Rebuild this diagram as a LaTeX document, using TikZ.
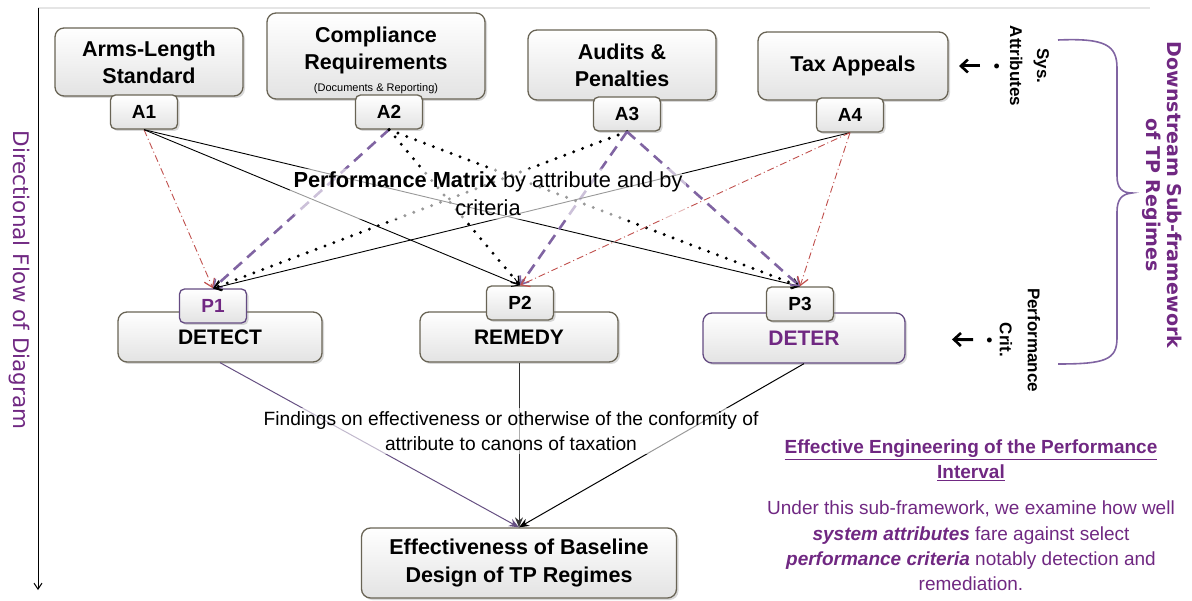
\documentclass[tikz,border=0pt]{standalone}
\usepackage{fontspec}
\setmainfont{Liberation Sans}
\newfontfamily\handfont{DejaVu Sans}
\usetikzlibrary{arrows.meta, shadows}
\definecolor{boxline}{RGB}{105,100,85}
\definecolor{deterline}{RGB}{100,75,130}
\definecolor{plum}{RGB}{112,40,130}
\definecolor{lilac}{RGB}{128,100,162}
\definecolor{brick}{RGB}{192,80,77}
\tikzstyle{attribute} = [rectangle, rounded corners=9pt, minimum width=188pt,
  minimum height=68pt, align=center, draw=boxline, line width=1.3pt,
  top color=white, bottom color=gray!22,
  drop shadow={opacity=0.3, shadow xshift=2pt, shadow yshift=-2pt},
  font=\fontsize{21.5}{27}\selectfont\bfseries]
\tikzstyle{tag} = [rectangle, rounded corners=5pt, minimum width=67pt,
  minimum height=34pt, draw=boxline, line width=1.3pt,
  top color=white, bottom color=gray!22,
  drop shadow={opacity=0.3, shadow xshift=2pt, shadow yshift=-2pt},
  font=\fontsize{19}{23}\selectfont\bfseries]
\tikzstyle{criterion} = [rectangle, rounded corners=9pt, minimum width=204pt,
  minimum height=50pt, draw=boxline, line width=1.3pt,
  top color=white, bottom color=gray!22,
  drop shadow={opacity=0.3, shadow xshift=2pt, shadow yshift=-2pt},
  font=\fontsize{21}{27}\selectfont\bfseries]
\tikzstyle{outcome} = [criterion, align=center, minimum width=315pt,
  minimum height=70pt, font=\fontsize{21.5}{28}\selectfont\bfseries]
\tikzstyle{note} = [align=center, fill=white, fill opacity=0.6,
  text opacity=1, rounded corners=15pt]
\tikzstyle{sidenote} = [rotate=-90, align=center, text=plum,
  font=\handfont\fontsize{21.5}{24}\selectfont]
\tikzstyle{arrow} = [-{Stealth[length=10pt, width=8pt]}, line width=1pt]
\tikzstyle{back} = [-{Straight Barb[length=7pt, width=13pt, line width=2.6pt]},
  line width=3pt]
\tikzstyle{solidlink} = [-{Straight Barb[length=7pt, width=9pt]}, black,
  line width=0.9pt]
\tikzstyle{dashlink} = [-{Straight Barb[length=7pt, width=11pt, line width=1.6pt]},
  lilac, line width=2.6pt, dash pattern=on 11pt off 7pt]
\tikzstyle{dotlink} = [-{Straight Barb[length=7pt, width=10pt, line width=1.6pt]},
  black, line width=3.3pt, line cap=round, dash pattern=on 0pt off 9.5pt]
\tikzstyle{dashdotlink} = [-{Straight Barb[length=8pt, width=11pt, line width=1.2pt]},
  brick, line width=0.9pt, dash pattern=on 7pt off 3pt on 1pt off 3pt]

\begin{document}
\begin{tikzpicture}[x=1pt, y=-1pt]
  \useasboundingbox (0,0) rectangle (1192,601);

  % flow of the diagram
  \coordinate (flowtop) at (38,8);
  \coordinate (flowend) at (38,590);
  \coordinate (topend) at (1150,8);
  \draw [gray!20, line width=2pt] (flowtop) -- (topend);
  \draw [-{Straight Barb[length=6pt, width=8pt]}, line width=1pt] (flowtop) -- (flowend);
  \node (flow) [sidenote] at (19,280) {Directional Flow of Diagram};

  % system attributes
  \node (arms) [attribute] at (149,62) {Arms-Length\\Standard};
  \node (compl) [attribute, minimum width=218pt, minimum height=86pt] at (376,56)
    {\mbox{}\\[-3pt]Compliance\\Requirements\\[-5pt]{\fontsize{11}{13}\selectfont\mdseries (Documents \& Reporting)}};
  \node (audits) [attribute, minimum height=70pt] at (622,65) {Audits \&\\Penalties};
  \node (taxapp) [attribute, minimum width=190pt] at (853,66) {Tax Appeals};
  \node (a1) [tag, below of=arms, node distance=50pt, xshift=-5pt] {A1};
  \node (a2) [tag, below of=compl, node distance=56pt, xshift=13pt] {A2};
  \node (a3) [tag, below of=audits, node distance=49pt, xshift=5pt] {A3};
  \node (a4) [tag, below of=taxapp, node distance=49pt, xshift=-3pt] {A4};

  % performance criteria
  \node (detect) [criterion] at (220,337) {DETECT};
  \node (remedy) [criterion, minimum width=198pt] at (519,337) {REMEDY};
  \node (deter) [criterion, draw=deterline, text=plum, minimum width=202pt]
    at (804,338) {DETER};
  \node (p1) [tag, above of=detect, node distance=31pt, xshift=-7pt,
    draw=deterline, text=plum] {P1};
  \node (p2) [tag, above of=remedy, node distance=34pt, xshift=1pt] {P2};
  \node (p3) [tag, above of=deter, node distance=34pt, xshift=-4pt] {P3};

  \node (result) [outcome] at (519,563) {Effectiveness of Baseline\\Design of TP Regimes};

  \draw [dashdotlink] (a1.south) -- (p1.north);
  \draw [solidlink] (a1.south) -- (p2.north);
  \draw [solidlink] (a1.south) -- (p3.north);
  \draw [dashlink] (a2.south) -- (p1.north);
  \draw [dotlink] (a2.south) -- (p2.north);
  \draw [dotlink] (a2.south) -- (p3.north);
  \draw [dotlink] (a3.south) -- (p1.north);
  \draw [dashlink] (a3.south) -- (p2.north);
  \draw [dashlink] (a3.south) -- (p3.north);
  \draw [solidlink] (a4.south) -- (p1.north);
  \draw [dashdotlink] (a4.south) -- (p2.north);
  \draw [dashdotlink] (a4.south) -- (p3.north);

  \draw [arrow, draw=lilac!80!black] (detect.south) -- (result.north);
  \draw [arrow, draw=gray!40!black] (remedy.south) -- (result.north);
  \draw [arrow] (deter.south) -- (result.north);

  \node (matrix) [note, font=\fontsize{21.8}{28}\selectfont] at (488,194)
    {\textbf{Performance Matrix} by attribute and by\\criteria};
  \node (findings) [note, font=\fontsize{19.2}{25}\selectfont] at (511,431)
    {Findings on effectiveness or otherwise of the conformity of\\attribute to canons of taxation};

  % right hand notes
  \node (sysattr) [sidenote, text=black, font=\fontsize{17}{27}\selectfont\bfseries]
    at (1020,66) {Sys.\\Attributes\\[-8pt]•};
  \node (perfcrit) [sidenote, text=black, font=\fontsize{17}{28}\selectfont\bfseries]
    at (1012,340) {Performance\\Crit.\\[-12pt]•};
  \draw [back, shorten <=40pt, shorten >=106pt] (sysattr.center) -- (taxapp.center);
  \draw [back, shorten <=39pt, shorten >=148pt] (perfcrit.center) -- (deter.center);

  \draw [lilac, line width=1.6pt] (1058,40) .. controls (1105,38) and (1117,45) .. (1117,68)
    -- (1117,176) .. controls (1117,188) and (1122,193) .. (1132,193)
    .. controls (1122,194) and (1117,199) .. (1117,212)
    -- (1117,338) .. controls (1117,360) and (1105,364) .. (1058,364);
  \node (downstream) [sidenote, font=\handfont\bfseries\fontsize{19}{21}\selectfont]
    at (1162,195) {Downstream Sub-framework\\of TP Regimes};

  \node (heading) [align=center, text=plum, font=\fontsize{19}{25}\selectfont\bfseries]
    at (971,460) {\underline{Effective Engineering of the Performance}\\\underline{Interval}};
  \node (summary) [align=center, text=plum, font=\fontsize{19}{25.3}\selectfont,
    below of=heading, node distance=86pt]
    {Under this sub-framework, we examine how well\\
     \textbf{\textit{system attributes}} fare against select\\
     \textbf{\textit{performance criteria}} notably detection and\\
     remediation.};
\end{tikzpicture}
\end{document}
